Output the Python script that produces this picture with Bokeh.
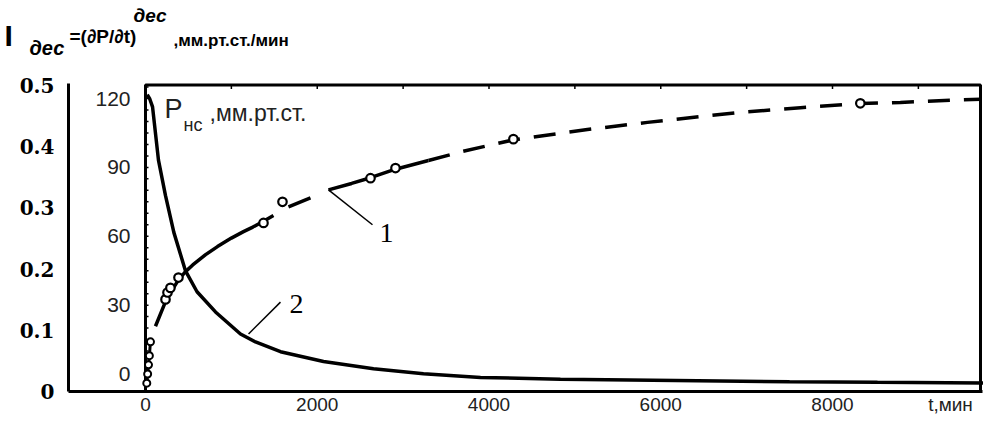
from bokeh.plotting import figure
from bokeh.models import Range1d
from bokeh.core.properties import value
from bokeh.embed import file_html
from bokeh.resources import INLINE

# ---------------- data ----------------
# curve 1: P_nc (mm Hg), inner axis
p1_solid_a_t = [116, 233, 300, 384, 466, 550, 700, 838, 1000, 1141, 1250, 1374, 1490]
p1_solid_a_v = [20.8, 31.5, 36.0, 41.0, 44.6, 47.5, 52.0, 55.5, 59.2, 62.0, 64.0, 66.5, 69.0]
p1_dash_b_t = [1665, 1921]
p1_dash_b_v = [72.8, 76.7]
p1_solid_c_t = [2131, 2400, 2620, 2911, 3295]
p1_solid_c_v = [80.2, 83.0, 85.5, 89.2, 93.0]
p1_dash_d_t = [3295, 3700, 4284, 5146, 5845, 6930, 7626, 8324, 8790, 9490, 9870]
p1_dash_d_v = [93.0, 97.0, 102.0, 106.5, 109.6, 114.0, 116.0, 117.8, 118.3, 119.4, 119.7]

p1_pts_early_t = [15, 25, 35, 45, 58]
p1_pts_early_v = [-4.0, 0.0, 4.0, 8.0, 14.0]
p1_pts_t = [233, 256, 290, 384, 1374, 1595, 2620, 2911, 4284, 8324]
p1_pts_v = [32.5, 35.5, 37.5, 42.0, 65.8, 75.0, 85.3, 89.7, 102.3, 117.9]

# curve 2: I_dec (mm Hg / min), outer axis
i2_t = [20, 50, 82, 151, 233, 330, 466, 600, 815, 1106, 1281, 1572, 2073, 2655,
        3237, 3901, 4832, 6171, 7500, 8524, 9870]
i2_v = [0.485, 0.478, 0.465, 0.378, 0.320, 0.260, 0.197, 0.163, 0.130, 0.094,
        0.081, 0.065, 0.049, 0.037, 0.029, 0.023, 0.020, 0.018, 0.016, 0.015, 0.014]

x_ticks = [0, 2000, 4000, 6000, 8000]
x_tick_labels = ["0", "2000", "4000", "6000", "8000"]
x_unit_label = "t,мин"
y_outer_ticks = [0, 0.1, 0.2, 0.3, 0.4, 0.5]
y_outer_labels = ["0", "0.1", "0.2", "0.3", "0.4", "0.5"]
y_inner_ticks = [0, 30, 60, 90, 120]
y_inner_labels = ["0", "30", "60", "90", "120"]

title_parts = ["I", "дес", "=(∂P/∂t)", "дес", ",мм.рт.ст./мин"]
p_title_parts = ["P", "нс", ",мм.рт.ст."]

# ---------------- geometry (pixels of the picture) ----------------
W, H = 983, 414
X0_PX = 145                     # t = 0
PX_T = (832 - 145) / 8000.0     # px per minute
I0_PX, I05_PX = 391, 85         # I = 0 and I = 0.5
PX_I = (I0_PX - I05_PX) / 0.5
P0_PX, P120_PX = 373.5, 98
PX_P = (P0_PX - P120_PX) / 120.0
AXIS_L_PX = 68
BOX_R_PX = 980
BOX_T_PX = 84.5
AXIS_T_PX = 83
XLAB_PX = 404


def tx(xp):
    return (xp - X0_PX) / PX_T


def iy(yp):
    return (I0_PX - yp) / PX_I


def py(yp):
    return (P0_PX - yp) / PX_P


p = figure(width=W, height=H, output_backend="svg", toolbar_location=None, title=None,
           x_range=Range1d(tx(0), tx(W)), y_range=Range1d(iy(H), iy(0)),
           x_axis_location=None, y_axis_location=None, min_border=0)
p.extra_y_ranges = {"P": Range1d(py(H), py(0))}
p.grid.visible = False
p.outline_line_color = None

T_AX = tx(AXIS_L_PX)
T_BOX = tx(BOX_R_PX)
I_BOX = iy(BOX_T_PX)

# outer axes: left vertical line and bottom line
p.line([T_AX, T_AX], [0, iy(AXIS_T_PX)], line_color="black", line_width=3)
p.line([T_AX, tx(982)], [0, 0], line_color="black", line_width=3)

# outer axis labels
p.text(x=[T_AX] * len(y_outer_ticks), y=y_outer_ticks, text=y_outer_labels,
       x_offset=-14, text_align="right", text_baseline="middle",
       text_font=value("DejaVu Serif"), text_font_style="bold",
       text_font_size="20px", text_color="black")

# bottom axis labels
p.text(x=x_ticks, y=[iy(XLAB_PX)] * len(x_ticks), text=x_tick_labels,
       text_align="center", text_baseline="middle", text_font=value("Liberation Sans"),
       text_font_size="19px", text_color="#222222")
p.text(x=[tx(950)], y=[iy(XLAB_PX)], text=[x_unit_label],
       text_align="center", text_baseline="middle", text_font=value("Liberation Sans"),
       text_font_size="19px", text_color="#222222")

# inner frame box
p.line([0, 0, T_BOX, T_BOX], [0, I_BOX, I_BOX, 0], line_color="black", line_width=3)

# inner axis minor ticks every 5 mm Hg, pointing right
tick_len_t = 3 / PX_T
mt = list(range(-5, 126, 5))
p.segment(x0=[0] * len(mt), y0=mt, x1=[tick_len_t] * len(mt), y1=mt,
          y_range_name="P", line_color="black", line_width=1.5)
# top edge ticks every 1000 min, pointing down
tt = list(range(1000, 9001, 1000))
p.segment(x0=tt, y0=[I_BOX] * len(tt), x1=tt, y1=[I_BOX - 4 / PX_I] * len(tt),
          line_color="black", line_width=1.5)

# inner axis labels
p.text(x=[0] * len(y_inner_ticks), y=y_inner_ticks, text=y_inner_labels,
       y_range_name="P", x_offset=-15, text_align="right", text_baseline="middle",
       text_font=value("Liberation Sans"), text_font_size="21px", text_color="#222222")

# curve 2
p.line(i2_t, i2_v, line_color="black", line_width=3.5)

# curve 1
p.line(p1_solid_a_t, p1_solid_a_v, y_range_name="P", line_color="black", line_width=3.5)
p.line(p1_dash_b_t, p1_dash_b_v, y_range_name="P", line_color="black", line_width=3.5)
p.line(p1_solid_c_t, p1_solid_c_v, y_range_name="P", line_color="black", line_width=3.5)
p.line([min(t, T_BOX) for t in p1_dash_d_t], p1_dash_d_v, y_range_name="P",
       line_color="black", line_width=3.5, line_dash="22 14")
p.line(p1_pts_early_t, p1_pts_early_v, y_range_name="P", line_color="black", line_width=3)
p.scatter(p1_pts_early_t, p1_pts_early_v, y_range_name="P", marker="circle", size=7,
          fill_color="white", line_color="black", line_width=2)
p.scatter(p1_pts_t, p1_pts_v, y_range_name="P", marker="circle", size=8.5,
          fill_color="white", line_color="black", line_width=2.2)

# leader lines and curve numbers
p.line([2131, 2643], [80.2, 65.0], y_range_name="P", line_color="black", line_width=1.5)
p.line([1200, 1572], [0.094, 0.146], line_color="black", line_width=1.5)
p.text(x=[tx(386)], y=[iy(232)], text=["1"],
       text_font=value("Liberation Serif"), text_font_size="28px",
       text_align="center", text_baseline="middle", text_color="black")
p.text(x=[tx(296)], y=[iy(303)], text=["2"],
       text_font=value("Liberation Serif"), text_font_size="28px",
       text_align="center", text_baseline="middle", text_color="black")

# inner axis title  P_нс,мм.рт.ст.  (vertical centres)
pt_x = [164, 183, 209]
pt_y = [108.5, 124, 112]
pt_size = ["27px", "18px", "23px"]
for txt, xx, yy, sz in zip(p_title_parts, pt_x, pt_y, pt_size):
    p.text(x=[tx(xx)], y=[iy(yy)], text=[txt],
           text_font=value("Liberation Sans"), text_font_size=value(sz),
           text_baseline="middle", text_color="#222222")

# chart title  I_дес =(∂P/∂t)^дес ,мм.рт.ст./мин  (vertical centres)
t_x = [4, 29, 69, 133, 173]
t_y = [34.5, 47, 36, 14.5, 40]
t_size = ["30px", "20px", "19px", "19px", "17px"]
t_style = ["bold", "bold italic", "bold", "bold italic", "bold"]
for txt, xx, yy, sz, st in zip(title_parts, t_x, t_y, t_size, t_style):
    p.text(x=[tx(xx)], y=[iy(yy)], text=[txt], text_font=value("Liberation Sans"),
           text_font_size=value(sz), text_font_style=value(st),
           text_baseline="middle", text_color="black")

open("out.html", "w").write(file_html(p, INLINE))
